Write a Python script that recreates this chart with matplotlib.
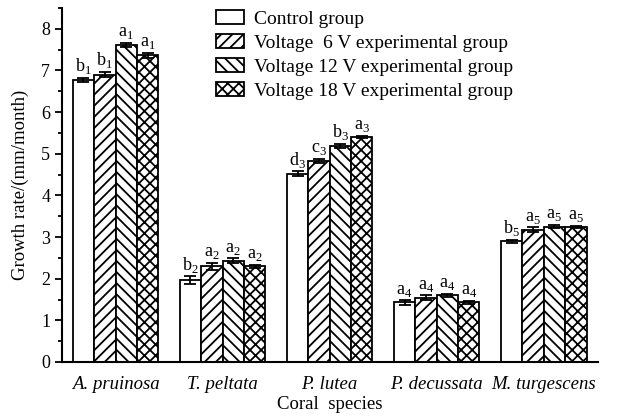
import numpy as np
import matplotlib
matplotlib.use('Agg')
import matplotlib.pyplot as plt
from matplotlib.ticker import MultipleLocator

plt.rcParams['font.family'] = ['Liberation Serif', 'DejaVu Serif']
plt.rcParams['mathtext.fontset'] = 'custom'
plt.rcParams['mathtext.rm'] = 'Liberation Serif'
plt.rcParams['hatch.linewidth'] = 1.3

# Data
species = ['A. pruinosa', 'T. peltata', 'P. lutea', 'P. decussata', 'M. turgescens']
groups = ['Control group', 'Voltage  6 V experimental group',
          'Voltage 12 V experimental group', 'Voltage 18 V experimental group']
control = [6.77, 1.97, 4.52, 1.43, 2.90]
v6 = [6.90, 2.30, 4.83, 1.54, 3.17]
v12 = [7.62, 2.43, 5.18, 1.60, 3.25]
v18 = [7.36, 2.30, 5.40, 1.43, 3.24]
err_control = [0.06, 0.09, 0.06, 0.05, 0.04]
err_v6 = [0.06, 0.08, 0.05, 0.06, 0.06]
err_v12 = [0.05, 0.06, 0.05, 0.04, 0.04]
err_v18 = [0.06, 0.04, 0.03, 0.04, 0.03]
letters = [['b', 'b', 'a', 'a'],
           ['b', 'a', 'a', 'a'],
           ['d', 'c', 'b', 'a'],
           ['a', 'a', 'a', 'a'],
           ['b', 'a', 'a', 'a']]

series = [control, v6, v12, v18]
errors = [err_control, err_v6, err_v12, err_v18]
hatches = ['', '///', '\\\\\\', 'xxx']

fig = plt.figure(figsize=(6.2, 4.18), dpi=100)
ax = fig.add_axes([0.1, 0.134, 0.865, 0.847])

x = np.arange(len(species))
w = 0.2
for j in range(4):
    pos = x + (j - 1.5) * w
    ax.bar(pos, series[j], w, color='white', edgecolor='black', linewidth=1.3,
           hatch=hatches[j], label=groups[j])
    ax.errorbar(pos, series[j], yerr=errors[j], fmt='none', ecolor='black',
                elinewidth=1.3, capsize=4, capthick=1.3)
    for i in range(len(species)):
        ax.text(pos[i], series[j][i] + errors[j][i] + 0.04,
                letters[i][j] + r'$_{%d}$' % (i + 1),
                ha='center', va='bottom', fontsize=13)

ax.set_xlim(-0.5, 4.51)
ax.set_ylim(0, 8.5)
ax.yaxis.set_major_locator(MultipleLocator(1))
ax.yaxis.set_minor_locator(MultipleLocator(0.5))
ax.set_xticks(x)
ax.set_xticklabels(species, style='italic', fontsize=13.5)
ax.tick_params(axis='x', length=0, pad=10)
ax.tick_params(axis='y', which='major', length=5, width=1.3, labelsize=13)
ax.tick_params(axis='y', which='minor', length=3, width=1.3)
for s in ['top', 'right']:
    ax.spines[s].set_visible(False)
for s in ['left', 'bottom']:
    ax.spines[s].set_linewidth(1.5)

ax.set_ylabel('Growth rate/(mm/month)', fontsize=13.5, labelpad=9)
ax.set_xlabel('Coral  species', fontsize=13.5, labelpad=2)

ax.legend(loc='upper left', bbox_to_anchor=(0.255, 1.045), frameon=False,
          fontsize=14, handlelength=1.45, handleheight=0.8, labelspacing=0.3,
          handletextpad=0.5)

fig.savefig('out.png', dpi=100)
